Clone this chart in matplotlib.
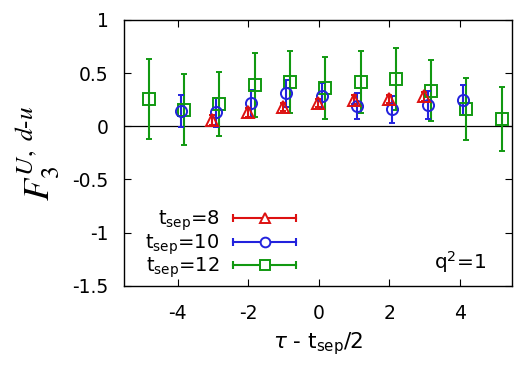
import matplotlib

matplotlib.use("Agg")
import matplotlib.pyplot as plt
import numpy as np
from matplotlib.legend_handler import HandlerBase
from matplotlib.lines import Line2D

plt.rcParams["font.family"] = ["DejaVu Sans"]
plt.rcParams["mathtext.fontset"] = "dejavusans"

# t_sep = 8
x8 = [-3, -2, -1, 0, 1, 2, 3]
y8 = [0.06, 0.13, 0.18, 0.22, 0.25, 0.255, 0.28]
e8 = [0.045, 0.04, 0.04, 0.04, 0.04, 0.04, 0.04]

# t_sep = 10
x10 = [-4, -3, -2, -1, 0, 1, 2, 3, 4]
y10 = [0.14, 0.13, 0.215, 0.31, 0.285, 0.19, 0.16, 0.20, 0.245]
e10 = [0.15, 0.135, 0.125, 0.125, 0.125, 0.125, 0.125, 0.135, 0.14]

# t_sep = 12
x12 = [-5, -4, -3, -2, -1, 0, 1, 2, 3, 4, 5]
y12 = [0.255, 0.155, 0.21, 0.39, 0.415, 0.36, 0.415, 0.445, 0.335, 0.16, 0.07]
e12 = [0.375, 0.335, 0.30, 0.30, 0.295, 0.295, 0.29, 0.29, 0.29, 0.29, 0.30]

C8, C10, C12 = "#dd1111", "#2222dd", "#119911"


class HBarHandler(HandlerBase):
    """Legend sample in gnuplot style: horizontal bar with caps and marker in the middle."""

    def create_artists(self, legend, orig, xd, yd, w, h, fs, trans):
        c = orig.get_color()
        y = h / 2 - yd
        x0, x1 = -xd, -xd + w
        bar = Line2D([x0, x1], [y, y], color=c, lw=1.5)
        caps = Line2D([x0, x1], [y, y], ls="none", marker="|", ms=6, mew=1.5, color=c)
        mk = Line2D([(x0 + x1) / 2], [y], ls="none", marker=orig.get_marker(), ms=7,
                    mfc="white", mec=c, mew=1.4)
        for a in (bar, caps, mk):
            a.set_transform(trans)
        return [bar, caps, mk]


fig = plt.figure(figsize=(5.25, 3.67), dpi=100)
ax = fig.add_axes([0.236, 0.221, 0.739, 0.725])

ax.axhline(0, color="black", lw=0.9, zorder=1)

common = dict(ls="none", capsize=2.5, elinewidth=1.5, capthick=1.5, mew=1.4,
              mfc="none")
ax.errorbar(np.array(x12) + 0.18, y12, yerr=e12, color=C12, marker="s", ms=8, **common)
ax.errorbar(np.array(x10) + 0.08, y10, yerr=e10, color=C10, marker="o", ms=8, **common)
ax.errorbar(np.array(x8) - 0.02, y8, yerr=e8, color=C8, marker="^", ms=9, **common)

ax.set_xlim(-5.53, 5.47)
ax.set_ylim(-1.5, 1.0)
ax.set_xticks([-4, -2, 0, 2, 4])
ax.set_yticks([-1.5, -1, -0.5, 0, 0.5, 1])
ax.set_yticklabels(["-1.5", "-1", "-0.5", "0", "0.5", "1"])
ax.set_xticklabels(["-4", "-2", "0", "2", "4"])
ax.tick_params(direction="in", top=True, right=True, length=5, width=0.8,
               labelsize=13.5)
ax.tick_params(axis="y", pad=11)
ax.tick_params(axis="x", pad=13)
for s in ax.spines.values():
    s.set_linewidth(1.0)

ax.set_xlabel(r"$\tau$ - t$_{\rm sep}$/2", fontsize=15.5, labelpad=5)
ax.set_ylabel(r"$F_3^{U,\ d\text{-}u}$", fontsize=26, labelpad=8,
              math_fontfamily="stix")

handles = [Line2D([], [], color=C8, marker="^"),
           Line2D([], [], color=C10, marker="o"),
           Line2D([], [], color=C12, marker="s")]
labels = ["t$_{\\rm sep}$=8", "t$_{\\rm sep}$=10", "t$_{\\rm sep}$=12"]
leg = ax.legend(handles, labels, loc="lower left", bbox_to_anchor=(0.02, -0.03),
                handler_map={Line2D: HBarHandler()},
                frameon=False, fontsize=14, markerfirst=False, handlelength=3.25,
                labelspacing=-0.05, handletextpad=0.7, borderaxespad=0.3)
for t in leg.get_texts():
    t.set_ha("right")
leg._legend_box.align = "right"

ax.text(0.935, 0.09, "q$^2$=1", transform=ax.transAxes, ha="right", va="center",
        fontsize=14.5)

fig.savefig("out.png", dpi=100)
